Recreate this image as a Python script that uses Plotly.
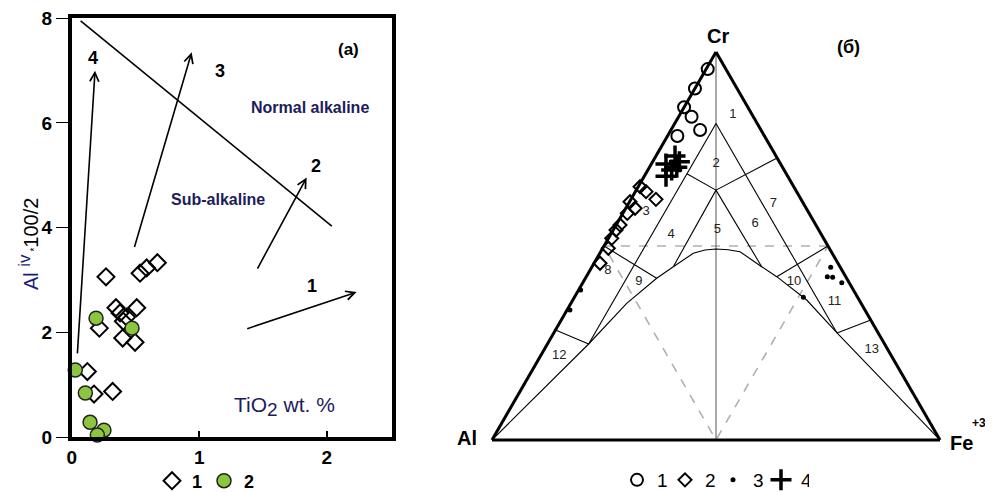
import plotly.graph_objects as go

# ---------------- Panel (a): Al(iv) vs TiO2 ----------------
tio2_s1 = [0.269, 0.536, 0.588, 0.672, 0.347, 0.379, 0.431, 0.510, 0.217, 0.405, 0.400, 0.497, 0.123, 0.175, 0.321]
aliv_s1 = [3.06, 3.13, 3.23, 3.33, 2.47, 2.37, 2.29, 2.47, 2.08, 2.21, 1.89, 1.81, 1.25, 0.82, 0.87]
tio2_s2 = [0.191, 0.473, 0.028, 0.107, 0.144, 0.253, 0.201]
aliv_s2 = [2.27, 2.08, 1.28, 0.84, 0.28, 0.13, 0.04]

boundary_x = [0.07, 2.04]
boundary_y = [7.95, 4.03]

arrow_labels = ["1", "2", "3", "4"]
arrow_tail_x = [1.365, 1.451, 0.489, 0.044]
arrow_tail_y = [2.06, 3.19, 3.60, 1.57]
arrow_head_x = [2.235, 1.843, 0.941, 0.183]
arrow_head_y = [2.77, 4.96, 7.35, 7.00]
arrow_label_x = [1.882, 1.916, 1.163, 0.165]
arrow_label_y = [2.88, 5.18, 7.00, 7.25]

x_ticks = [0, 1, 2]
y_ticks = [0, 2, 4, 6, 8]

# ---------------- Panel (б): Cr - Al - Fe3+ ternary ----------------
# (Cr, Al, Fe) fractions
s1_cr = [0.956, 0.906, 0.8575, 0.833, 0.799, 0.7835]
s1_al = [0.0405, 0.094, 0.1425, 0.138, 0.136, 0.1945]
s1_fe = [0.0035, 0.0, 0.0, 0.029, 0.065, 0.022]

s2_cr = [0.6528, 0.640, 0.6204, 0.6142, 0.5972, 0.5843, 0.5541, 0.5412, 0.5198, 0.494, 0.4554]
s2_al = [0.343, 0.336, 0.324, 0.385, 0.382, 0.406, 0.437, 0.4526, 0.473, 0.4934, 0.531]
s2_fe = [0.004, 0.0238, 0.0559, 0.001, 0.0206, 0.0099, 0.0086, 0.0062, 0.0073, 0.0126, 0.0134]

s3_cr = [0.445, 0.4209, 0.4193, 0.4054, 0.3678, 0.3866, 0.335]
s3_al = [0.0215, 0.041, 0.030, 0.0165, 0.121, 0.609, 0.6586]
s3_fe = [0.5335, 0.538, 0.5508, 0.5779, 0.511, 0.0045, 0.0064]

s4_cr = [0.732, 0.711, 0.7173, 0.696, 0.680, 0.703]
s4_al = [0.2255, 0.256, 0.223, 0.251, 0.2716, 0.236]
s4_fe = [0.0425, 0.0327, 0.0595, 0.0531, 0.0484, 0.0609]

# field boundaries, points as (Cr, Al, Fe)
line_axis = [(1, 0, 0), (0, 0.5, 0.5)]
line_l1 = [(0.816, 0.092, 0.092), (0.2474, 0.6606, 0.092)]
line_l2 = [(0.816, 0.092, 0.092), (0.2758, 0.092, 0.6322)]
line_d = [(0.644, 0.178, 0.178), (0.686, 0.222, 0.092)]
line_e = [(0.644, 0.178, 0.178), (0.727, 0.0, 0.273)]
line_f = [(0.644, 0.178, 0.178), (0.4466, 0.372, 0.1814)]
line_g = [(0.644, 0.178, 0.178), (0.4466, 0.1747, 0.3787)]
line_k = [(0.5, 0.5, 0.0), (0.4168, 0.424, 0.1592)]
line_kr = [(0.5, 0.0, 0.5), (0.4209, 0.154, 0.4251)]
line_12 = [(0.2474, 0.6606, 0.092), (0.2835, 0.7165, 0.0)]
line_13 = [(0.2758, 0.092, 0.6322), (0.3093, 0.0, 0.6907)]
line_curve = [(0, 1, 0), (0.2474, 0.6606, 0.092), (0.3523, 0.5232, 0.1245), (0.4168, 0.424, 0.1592),
              (0.4466, 0.372, 0.1814), (0.4812, 0.3101, 0.2087), (0.4897, 0.2797, 0.2306),
              (0.4923, 0.2538, 0.2539), (0.4905, 0.2279, 0.2816), (0.4853, 0.2038, 0.3109),
              (0.4466, 0.1747, 0.3787), (0.4209, 0.154, 0.4251), (0.3608, 0.1171, 0.5221),
              (0.2758, 0.092, 0.6322), (0, 0, 1)]
line_dashed = [(0.5, 0, 0.5), (0.5, 0.5, 0), (0, 0.5, 0.5), (0.5, 0, 0.5)]

field_names = ["1", "2", "3", "4", "5", "6", "7", "8", "9", "10", "11", "12", "13"]
field_cr = [0.8376, 0.7131, 0.5876, 0.5296, 0.542, 0.5567, 0.61, 0.4374, 0.408, 0.408, 0.3564, 0.2165, 0.232]
field_al = [0.0435, 0.1431, 0.3624, 0.3356, 0.2257, 0.1346, 0.0667, 0.5224, 0.4679, 0.1219, 0.0573, 0.7418, 0.0365]
field_fe = [0.1189, 0.1438, 0.05, 0.1348, 0.2323, 0.3087, 0.3233, 0.0402, 0.1241, 0.4701, 0.5863, 0.042, 0.7315]

FONT = "Liberation Sans, Arial, sans-serif"
NAVY = "#1c1c5c"

# page body has an 8px margin: the figure starts at screen (8, 8)
W, H = 985, 484


def px(X):
    return (X - 8) / W


def py(Y):
    return (492 - Y) / H


fig = go.Figure()

# ---- panel (a) ----
fig.add_trace(go.Scatter(x=boundary_x, y=boundary_y, mode="lines",
                         line=dict(color="black", width=1.6), showlegend=False, hoverinfo="skip"))
fig.add_trace(go.Scatter(x=tio2_s1, y=aliv_s1, mode="markers", name="1", legend="legend",
                         marker=dict(symbol="diamond-open", size=13, color="black", line=dict(width=2)),
                         cliponaxis=False))
fig.add_trace(go.Scatter(x=tio2_s2, y=aliv_s2, mode="markers", name="2", legend="legend",
                         marker=dict(symbol="circle", size=14, color="#8cc63f",
                                     line=dict(color="#222222", width=1.5)),
                         cliponaxis=False))

annotations = []
for hx, hy, tx, ty in zip(arrow_head_x, arrow_head_y, arrow_tail_x, arrow_tail_y):
    annotations.append(dict(x=hx, y=hy, ax=tx, ay=ty, xref="x", yref="y", axref="x", ayref="y",
                            text="", showarrow=True, arrowhead=5, arrowsize=1.1, arrowwidth=1.6,
                            arrowcolor="black"))
for lab, lx, ly in zip(arrow_labels, arrow_label_x, arrow_label_y):
    annotations.append(dict(x=lx, y=ly, xref="x", yref="y", text=lab, showarrow=False,
                            font=dict(family=FONT, size=18, color="black", weight="bold")))

annotations += [
    dict(x=2.169, y=7.41, xref="x", yref="y", text="(a)", showarrow=False,
         font=dict(family=FONT, size=17, color="black", weight="bold")),
    dict(x=1.869, y=6.30, xref="x", yref="y", text="Normal alkaline", showarrow=False,
         font=dict(family=FONT, size=16, color=NAVY, weight="bold")),
    dict(x=1.15, y=4.54, xref="x", yref="y", text="Sub-alkaline", showarrow=False,
         font=dict(family=FONT, size=16, color=NAVY, weight="bold")),
    dict(x=1.673, y=0.58, xref="x", yref="y",
         text="TiO<sub><span style='font-size:19px'>2</span></sub> wt. %", showarrow=False,
         font=dict(family=FONT, size=21, color=NAVY)),
    dict(x=px(28), y=py(244), xref="paper", yref="paper", xanchor="center", yanchor="middle",
         textangle=-90, showarrow=False,
         text="<span style='color:#1c1c7a'>Al <sup><span style='font-size:17px'>iv</span></sup></span>"
              "<span style='font-size:10px'> *</span>100/2",
         font=dict(family=FONT, size=20, color="black")),
]


# ---- panel (б) ----
def add_line(pts, color="black", width=1.1, dash="solid"):
    fig.add_trace(go.Scatterternary(a=[p[0] for p in pts], b=[p[1] for p in pts], c=[p[2] for p in pts],
                                    mode="lines", line=dict(color=color, width=width, dash=dash),
                                    showlegend=False, hoverinfo="skip"))


add_line(line_dashed, color="#b0b0b0", width=1.6, dash="dash")
add_line(line_axis, color="#555555", width=1)
for ln in [line_l1, line_l2, line_d, line_e, line_f, line_g, line_k, line_kr, line_12, line_13, line_curve]:
    add_line(ln)

fig.add_trace(go.Scatterternary(a=field_cr, b=field_al, c=field_fe, mode="text", text=field_names,
                                textfont=dict(family=FONT, size=13, color="#222222"),
                                showlegend=False, hoverinfo="skip"))

fig.add_trace(go.Scatterternary(a=s1_cr, b=s1_al, c=s1_fe, mode="markers", name="1", legend="legend2",
                                marker=dict(symbol="circle-open", size=12, color="black", line=dict(width=2)),
                                cliponaxis=False))
fig.add_trace(go.Scatterternary(a=s2_cr, b=s2_al, c=s2_fe, mode="markers", name="2", legend="legend2",
                                marker=dict(symbol="diamond-open", size=10, color="black", line=dict(width=2)),
                                cliponaxis=False))
fig.add_trace(go.Scatterternary(a=s3_cr, b=s3_al, c=s3_fe, mode="markers", name="3", legend="legend2",
                                marker=dict(symbol="circle", size=5, color="black"),
                                cliponaxis=False))
fig.add_trace(go.Scatterternary(a=s4_cr, b=s4_al, c=s4_fe, mode="markers", name="4", legend="legend2",
                                marker=dict(symbol="cross-thin-open", size=15, color="black", line=dict(width=3.5)),
                                cliponaxis=False))

paper_txt = dict(xref="paper", yref="paper", xanchor="center", yanchor="middle", showarrow=False)
annotations += [
    dict(x=px(718), y=py(36), text="Cr", font=dict(family=FONT, size=20, color="black", weight="bold"),
         **paper_txt),
    dict(x=px(467), y=py(438), text="Al", font=dict(family=FONT, size=20, color="black", weight="bold"),
         **paper_txt),
    dict(x=px(961), y=py(443), text="Fe", font=dict(family=FONT, size=20, color="black", weight="bold"),
         **paper_txt),
    dict(x=px(979), y=py(423), text="+3", font=dict(family=FONT, size=12, color="black", weight="bold"),
         **paper_txt),
    dict(x=px(848), y=py(47), text="(б)", font=dict(family=FONT, size=18, color="black", weight="bold"),
         **paper_txt),
]

axis_common = dict(showticklabels=False, ticks="", showgrid=False, linewidth=3, linecolor="black",
                   title=dict(text=""))

fig.update_layout(
    width=W, height=H,
    margin=dict(l=0, r=0, t=0, b=0, autoexpand=False),
    paper_bgcolor="white", plot_bgcolor="white",
    font=dict(family=FONT, color="black"),
    xaxis=dict(domain=[px(71.7), px(391.7)], range=[0, 2.51], tickvals=x_ticks,
               ticks="inside", ticklen=6, tickwidth=1.5, tickcolor="black",
               showline=True, mirror=True, linewidth=3.5, linecolor="black",
               showgrid=False, zeroline=False, automargin=False, ticklabeloverflow="allow",
               tickfont=dict(family=FONT, size=19, color="black", weight="bold")),
    yaxis=dict(domain=[py(437), py(18.3)], range=[0, 8], tickvals=y_ticks,
               ticks="outside", ticklen=12, tickwidth=1.2, tickcolor="black",
               showline=True, mirror=True, linewidth=3.5, linecolor="black",
               showgrid=False, zeroline=False, automargin=False, ticklabeloverflow="allow",
               tickfont=dict(family=FONT, size=19, color="black", weight="bold")),
    ternary=dict(domain=dict(x=[px(492), px(940)], y=[py(440), py(52)]), sum=1,
                 bgcolor="white", aaxis=axis_common, baxis=axis_common, caxis=axis_common),
    legend=dict(orientation="h", x=px(152), y=py(481), xanchor="left", yanchor="middle",
                bgcolor="rgba(0,0,0,0)", font=dict(family=FONT, size=18, color="black", weight="bold"),
                itemwidth=30, entrywidth=7, entrywidthmode="pixels"),
    legend2=dict(orientation="h", x=px(617), y=py(480), xanchor="left", yanchor="middle",
                 bgcolor="rgba(0,0,0,0)", font=dict(family=FONT, size=19, color="black"),
                 itemwidth=30, entrywidth=3, entrywidthmode="pixels"),
    annotations=annotations,
    showlegend=True,
)

fig.write_html("out.html")
